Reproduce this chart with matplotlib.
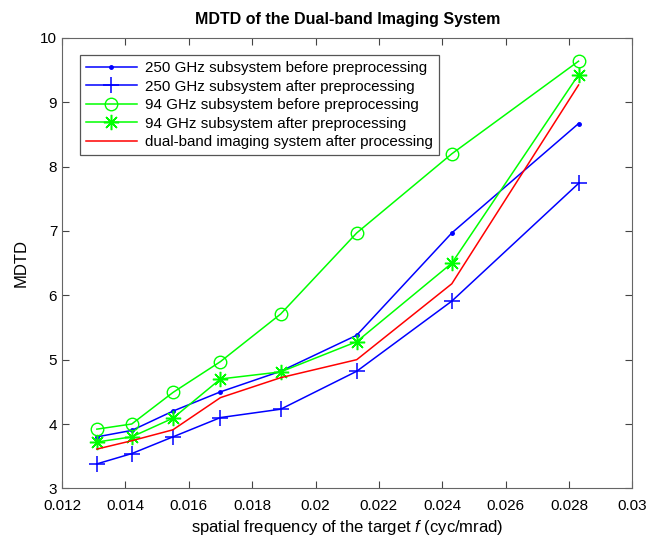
import numpy as np
import matplotlib.pyplot as plt

plt.rcParams['font.family'] = ['Liberation Sans', 'DejaVu Sans']
plt.rcParams['mathtext.fontset'] = 'custom'
plt.rcParams['mathtext.it'] = 'Liberation Sans:italic'
plt.rcParams['mathtext.rm'] = 'Liberation Sans'

# spatial frequency (cyc/mrad)
freq = [0.0131, 0.0142, 0.0155, 0.0170, 0.0189, 0.0213, 0.0243, 0.0283]

mdtd_250_before = [3.80, 3.90, 4.20, 4.50, 4.82, 5.38, 6.97, 8.67]
mdtd_250_after = [3.38, 3.54, 3.80, 4.10, 4.23, 4.82, 5.91, 7.74]
mdtd_94_before = [3.92, 4.00, 4.49, 4.97, 5.71, 6.97, 8.20, 9.64]
mdtd_94_after = [3.72, 3.80, 4.09, 4.70, 4.81, 5.28, 6.50, 9.43]
mdtd_dual = [3.61, 3.74, 3.91, 4.41, 4.72, 5.00, 6.18, 9.27]

labels = ['250 GHz subsystem before preprocessing',
          '250 GHz subsystem after preprocessing',
          '94 GHz subsystem before preprocessing',
          '94 GHz subsystem after preprocessing',
          'dual-band imaging system after processing']

xticks = [0.012, 0.014, 0.016, 0.018, 0.02, 0.022, 0.024, 0.026, 0.028, 0.03]
xtick_labels = ['0.012', '0.014', '0.016', '0.018', '0.02', '0.022', '0.024', '0.026', '0.028', '0.03']
yticks = [3, 4, 5, 6, 7, 8, 9, 10]

fig = plt.figure(figsize=(6.5, 5.39), dpi=100)
ax = fig.add_axes([0.0954, 0.094, 0.8776, 0.8355])

asterisk = (8, 2, 0)
ax.plot(freq, mdtd_250_before, color='b', marker='.', markersize=5, lw=1.1, label=labels[0])
ax.plot(freq, mdtd_250_after, color='b', marker='+', markersize=11, mew=1.1, lw=1.1, label=labels[1])
ax.plot(freq, mdtd_94_before, color='#00ff00', marker='o', markersize=9, mfc='none', mew=1.0, lw=1.1, label=labels[2])
ax.plot(freq, mdtd_94_after, color='#00ff00', marker=asterisk, markersize=11, mew=1.1, lw=1.1, label=labels[3])
ax.plot(freq, mdtd_dual, color='r', lw=1.1, label=labels[4])

ax.set_xlim(0.012, 0.03)
ax.set_ylim(3, 10)
ax.set_xticks(xticks)
ax.set_xticklabels(xtick_labels)
ax.set_yticks(yticks)
ax.tick_params(direction='in', top=True, right=True, labelsize=11, length=5, width=0.8, colors='#444444', labelcolor='black')
ax.tick_params(axis='x', pad=8)
for s in ax.spines.values():
    s.set_color('#666666')

ax.set_title('MDTD of the Dual-band Imaging System', fontsize=11.5, fontweight='bold', pad=10)
ax.set_xlabel('spatial frequency of the target $f$ (cyc/mrad)', fontsize=12, labelpad=3)
ax.set_ylabel('MDTD', fontsize=12, labelpad=8)

leg = ax.legend(loc='upper left', bbox_to_anchor=(0.031, 0.962), fontsize=10.9, fancybox=False,
                framealpha=1, edgecolor='#555555', handlelength=3.4, borderaxespad=0,
                labelspacing=0.3, borderpad=0.4, handletextpad=0.5)
leg.get_frame().set_linewidth(0.9)

fig.savefig('out.png', dpi=100)
